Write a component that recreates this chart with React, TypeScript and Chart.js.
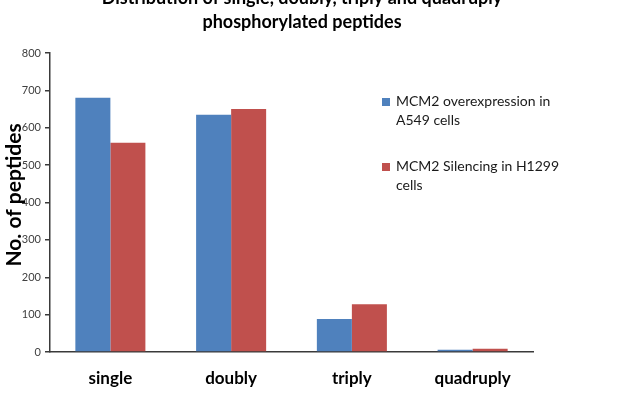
import { useEffect, useRef } from 'react';
import { Chart, registerables } from 'chart.js';

Chart.register(...registerables);

// Phosphorylation multiplicity categories
const categories = ['single', 'doubly', 'triply', 'quadruply'];

// Number of phosphopeptides per category
const a549Overexpression = [680, 635, 88, 6];
const h1299Silencing = [560, 650, 128, 9];

// Legend text, one array of lines per series
const a549Label = ['MCM2 overexpression in', 'A549 cells'];
const h1299Label = ['MCM2 Silencing in H1299', 'cells'];

const titleLines = ['Distribution of single, doubly, triply and quadruply', 'phosphorylated peptides'];
const yAxisTitle = 'No. of peptides';

const yMax = 800;
const yStep = 100;

const BLUE = '#4F81BD';
const RED = '#C0504D';
const FONT = 'Lato, "Open Sans", sans-serif';

const legendLines = [a549Label, h1299Label];
const legendColors = [BLUE, RED];

const annotations = {
  id: 'annotations',
  afterDraw(chart: Chart) {
    const { ctx } = chart;
    ctx.save();
    ctx.fillStyle = '#000';
    ctx.textAlign = 'center';
    ctx.textBaseline = 'alphabetic';

    // Two-line chart title
    ctx.font = `bold 18px ${FONT}`;
    ctx.fillText(titleLines[0], 302, 4);
    ctx.fillText(titleLines[1], 302, 28);

    // Rotated y-axis title, baseline facing the axis
    ctx.save();
    ctx.translate(21, 195);
    ctx.rotate(-Math.PI / 2);
    ctx.font = `bold 21px ${FONT}`;
    ctx.fillText(yAxisTitle, 0, 0);
    ctx.restore();

    // Legend with wrapped entries
    ctx.textAlign = 'left';
    ctx.font = `14px ${FONT}`;
    const itemBaselines = [106, 171];
    legendLines.forEach((lines, i) => {
      const base = itemBaselines[i];
      ctx.fillStyle = legendColors[i];
      ctx.fillRect(382, base - 8, 8, 8);
      ctx.fillStyle = '#1a1a1a';
      lines.forEach((line, j) => ctx.fillText(line, 396, base + j * 19));
    });
    ctx.restore();
  },
};

export default function App() {
  const canvasRef = useRef<HTMLCanvasElement | null>(null);

  useEffect(() => {
    if (!canvasRef.current) return;
    const chart = new Chart(canvasRef.current, {
      type: 'bar',
      data: {
        labels: categories,
        datasets: [
          {
            label: a549Label.join(' '),
            data: a549Overexpression,
            backgroundColor: BLUE,
            categoryPercentage: 0.58,
            barPercentage: 1,
          },
          {
            label: h1299Label.join(' '),
            data: h1299Silencing,
            backgroundColor: RED,
            categoryPercentage: 0.58,
            barPercentage: 1,
          },
        ],
      },
      options: {
        animation: false,
        responsive: true,
        maintainAspectRatio: false,
        layout: { padding: { top: 53, right: 101, bottom: 0, left: 0 } },
        plugins: {
          legend: { display: false },
          title: { display: false },
          tooltip: { enabled: false },
        },
        scales: {
          x: {
            afterFit: (scale: any) => {
              scale.height = 66;
            },
            grid: { display: false },
            border: { display: true, color: '#3a3a3a', width: 1.5 },
            ticks: {
              color: '#000',
              padding: 8,
              font: { family: FONT, size: 17, weight: 'bold' },
            },
          },
          y: {
            min: 0,
            max: yMax,
            afterFit: (scale: any) => {
              scale.width = 50;
            },
            grid: {
              drawOnChartArea: false,
              drawTicks: true,
              tickLength: 5,
              color: '#3a3a3a',
              lineWidth: 1.5,
            },
            border: { display: true, color: '#3a3a3a', width: 1.5 },
            ticks: {
              stepSize: yStep,
              padding: 4,
              color: '#404040',
              font: { family: FONT, size: 11 },
            },
          },
        },
      },
      plugins: [annotations],
    });
    return () => chart.destroy();
  }, []);

  return (
    <div style={{ position: 'fixed', left: 0, top: 0, width: 634, height: 418, background: '#fff' }}>
      <canvas ref={canvasRef} />
    </div>
  );
}
